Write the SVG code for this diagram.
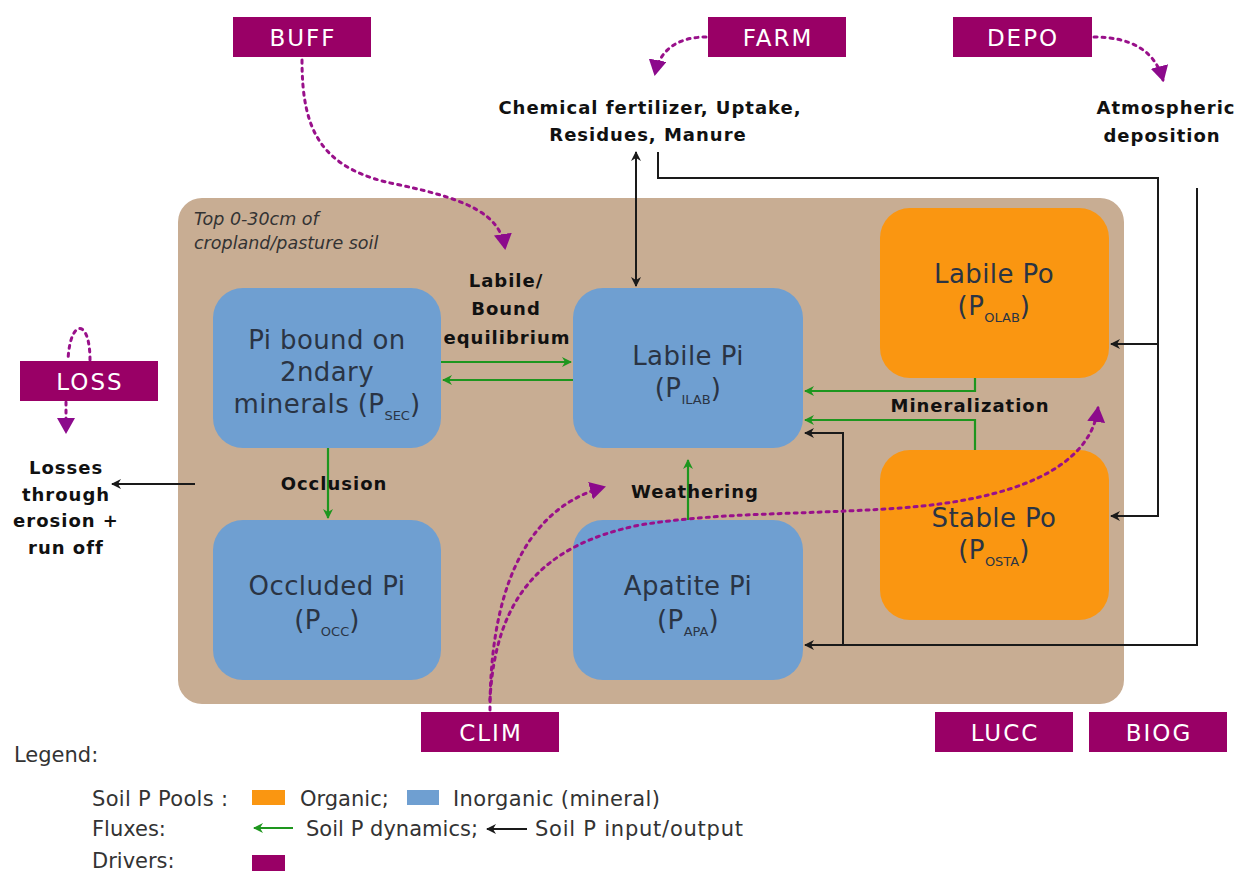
<svg xmlns="http://www.w3.org/2000/svg" width="1245" height="875" viewBox="0 0 1245 875">
<style>
.drv rect{fill:#990066}
.drv text{fill:#fff;font-family:"DejaVu Sans","Liberation Sans",sans-serif;font-size:23px;letter-spacing:2px;text-anchor:middle}
.blue{fill:#6f9fd1}
.orange{fill:#fa9611}
.pool{font-family:"DejaVu Sans","Liberation Sans",sans-serif;font-size:26px;letter-spacing:0.4px;fill:#2a3444;text-anchor:middle}
.sub{font-size:13px;letter-spacing:0}
.lbl{font-family:"DejaVu Sans","Liberation Sans",sans-serif;font-weight:bold;font-size:18px;letter-spacing:1px;fill:#111;text-anchor:middle}
.g{stroke:#1e961e;stroke-width:2.2;fill:none}
.k{stroke:#1a1a1a;stroke-width:2;fill:none}
.p{stroke:#99108a;stroke-width:3;fill:none;stroke-dasharray:3 5;stroke-linecap:round}
.leg{font-family:"DejaVu Sans","Liberation Sans",sans-serif;font-size:21px;fill:#333}
.it{font-family:"DejaVu Sans","Liberation Sans",sans-serif;font-style:italic;font-size:17.5px;fill:#333}
</style>
<defs>
<marker id="ag" markerWidth="10" markerHeight="10" refX="9" refY="5" orient="auto" markerUnits="userSpaceOnUse"><path d="M0,0 L10,5 L0,10 L3,5 Z" fill="#1e961e"/></marker>
<marker id="ak" markerWidth="10" markerHeight="10" refX="9" refY="5" orient="auto" markerUnits="userSpaceOnUse"><path d="M0,0 L10,5 L0,10 L3,5 Z" fill="#1a1a1a"/></marker>
<marker id="ak2" markerWidth="10" markerHeight="10" refX="1" refY="5" orient="auto" markerUnits="userSpaceOnUse"><path d="M10,0 L0,5 L10,10 L7,5 Z" fill="#1a1a1a"/></marker>
<marker id="ap" markerWidth="16" markerHeight="18" refX="14" refY="9" orient="auto" markerUnits="userSpaceOnUse"><path d="M0,0 L16,9 L0,18 Z" fill="#8c0a8c"/></marker>
</defs>
<rect width="1245" height="875" fill="#fff"/>

<g id="soil">
<rect x="178" y="198" width="946" height="506" rx="24" fill="#c8ad93"/>
<text class="it" x="194" y="225">Top 0-30cm of</text>
<text class="it" x="194" y="249">cropland/pasture soil</text>
</g>

<g id="psec"><rect class="blue" x="213" y="288" width="228" height="160" rx="30"/>
<text class="pool" x="327" y="349">Pi bound on</text><text class="pool" x="327" y="381">2ndary</text>
<text class="pool" x="327" y="413">minerals (P<tspan class="sub" dy="7">SEC</tspan><tspan dy="-7">)</tspan></text></g>
<g id="pocc"><rect class="blue" x="213" y="520" width="228" height="160" rx="30"/>
<text class="pool" x="327" y="595">Occluded Pi</text>
<text class="pool" x="327" y="629">(P<tspan class="sub" dy="7">OCC</tspan><tspan dy="-7">)</tspan></text></g>
<g id="pilab"><rect class="blue" x="573" y="288" width="230" height="160" rx="30"/>
<text class="pool" x="688" y="365">Labile Pi</text>
<text class="pool" x="688" y="397">(P<tspan class="sub" dy="7">ILAB</tspan><tspan dy="-7">)</tspan></text></g>
<g id="papa"><rect class="blue" x="573" y="520" width="230" height="160" rx="30"/>
<text class="pool" x="688" y="595">Apatite Pi</text>
<text class="pool" x="688" y="629">(P<tspan class="sub" dy="7">APA</tspan><tspan dy="-7">)</tspan></text></g>
<g id="polab"><rect class="orange" x="880" y="208" width="229" height="170" rx="30"/>
<text class="pool" x="994" y="283">Labile Po</text>
<text class="pool" x="994" y="315">(P<tspan class="sub" dy="7">OLAB</tspan><tspan dy="-7">)</tspan></text></g>
<g id="posta"><rect class="orange" x="880" y="450" width="229" height="170" rx="30"/>
<text class="pool" x="994" y="527">Stable Po</text>
<text class="pool" x="994" y="559">(P<tspan class="sub" dy="7">OSTA</tspan><tspan dy="-7">)</tspan></text></g>

<g id="connectors">
<path class="g" d="M441,362 H571" marker-end="url(#ag)"/>
<path class="g" d="M573,380 H443" marker-end="url(#ag)"/>
<path class="g" d="M328,448 V518" marker-end="url(#ag)"/>
<path class="g" d="M688,520 V460" marker-end="url(#ag)"/>
<path class="g" d="M975,378 V391 H805" marker-end="url(#ag)"/>
<path class="g" d="M975,450 V420 H805" marker-end="url(#ag)"/>
<path class="k" d="M636,152 V286" marker-start="url(#ak2)" marker-end="url(#ak)"/>
<path class="k" d="M658,152 V178 H1158 V516 H1111" marker-end="url(#ak)"/>
<path class="k" d="M1158,344 H1111" marker-end="url(#ak)"/>
<path class="k" d="M1197,188 V645 H805" marker-end="url(#ak)"/>
<path class="k" d="M843,645 V433 H805" marker-end="url(#ak)"/>
<path class="k" d="M195,484 H112" marker-end="url(#ak)"/>
<path class="p" d="M302,60 C302,130 320,170 400,185 C470,200 500,215 505,248" marker-end="url(#ap)"/>
<path class="p" d="M706,37 C680,37 660,48 655,74" marker-end="url(#ap)"/>
<path class="p" d="M1094,37 C1130,37 1155,50 1163,80" marker-end="url(#ap)"/>
<path class="p" d="M90,360 C90,318 70,318 68,360"/>
<path class="p" d="M66,402 V432" marker-end="url(#ap)"/>
<path class="p" d="M490,710 C490,600 520,510 604,487" marker-end="url(#ap)"/>
<path class="p" d="M490,700 C495,600 540,545 640,525 C720,512 800,515 900,508 C1010,500 1090,470 1098,408" marker-end="url(#ap)"/>
</g>

<g id="labels">
<text class="lbl" x="650" y="114">Chemical fertilizer, Uptake,</text>
<text class="lbl" x="648" y="141">Residues, Manure</text>
<text class="lbl" x="1166" y="114">Atmospheric</text>
<text class="lbl" x="1162" y="142">deposition</text>
<text class="lbl" x="506" y="287">Labile/</text>
<text class="lbl" x="506" y="315">Bound</text>
<text class="lbl" x="507" y="344">equilibrium</text>
<text class="lbl" x="334" y="490">Occlusion</text>
<text class="lbl" x="695" y="498">Weathering</text>
<text class="lbl" x="970" y="412">Mineralization</text>
<text class="lbl" x="66" y="474">Losses</text>
<text class="lbl" x="66" y="501">through</text>
<text class="lbl" x="66" y="527">erosion +</text>
<text class="lbl" x="66" y="554">run off</text>
</g>

<g id="buff" class="drv"><rect x="233" y="17" width="138" height="40"/><text x="303" y="46">BUFF</text></g>
<g id="farm" class="drv"><rect x="708" y="17" width="138" height="40"/><text x="778" y="46">FARM</text></g>
<g id="depo" class="drv"><rect x="953" y="17" width="139" height="40"/><text x="1023" y="46">DEPO</text></g>
<g id="loss" class="drv"><rect x="20" y="361" width="138" height="40"/><text x="90" y="390">LOSS</text></g>
<g id="clim" class="drv"><rect x="421" y="712" width="138" height="40"/><text x="491" y="741">CLIM</text></g>
<g id="lucc" class="drv"><rect x="935" y="712" width="138" height="40"/><text x="1005" y="741">LUCC</text></g>
<g id="biog" class="drv"><rect x="1089" y="712" width="138" height="40"/><text x="1159" y="741">BIOG</text></g>

<g id="legend">
<text class="leg" x="14" y="762">Legend:</text>
<text class="leg" x="92" y="806" textLength="136" lengthAdjust="spacing">Soil P Pools :</text>
<rect x="252" y="790" width="33" height="15" fill="#fa9611"/>
<text class="leg" x="300" y="806">Organic;</text>
<rect x="407" y="790" width="32" height="15" fill="#6f9fd1"/>
<text class="leg" x="453" y="806" textLength="207" lengthAdjust="spacing">Inorganic (mineral)</text>
<text class="leg" x="92" y="836">Fluxes:</text>
<path class="g" d="M293,828 H254" marker-end="url(#ag)"/>
<text class="leg" x="306" y="836" textLength="172" lengthAdjust="spacing">Soil P dynamics;</text>
<path class="k" d="M527,829 H487" marker-end="url(#ak)"/>
<text class="leg" x="535" y="836" textLength="208" lengthAdjust="spacing">Soil P input/output</text>
<text class="leg" x="92" y="868">Drivers:</text>
<rect x="252" y="855" width="33" height="16" fill="#990066"/>
</g>
</svg>
